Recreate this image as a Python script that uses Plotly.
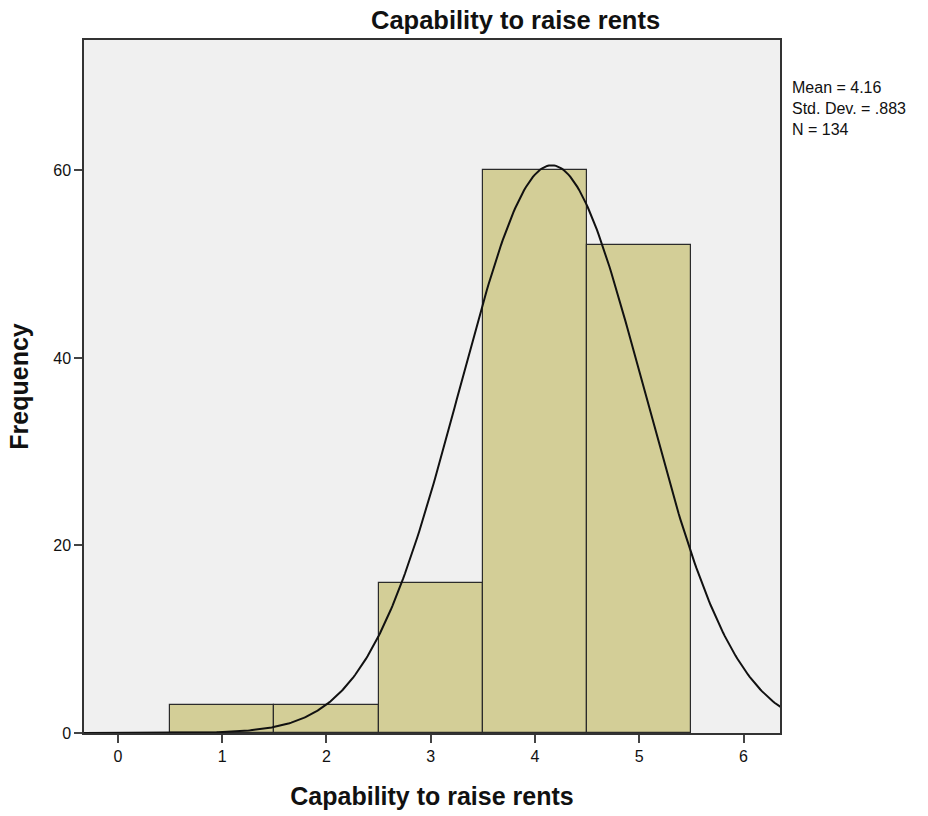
import numpy as np
import plotly.graph_objects as go

# Data
categories = [1, 2, 3, 4, 5]
frequencies = [3, 3, 16, 60, 52]
mean_val = 4.16
std_val = 0.883
n_val = 134
x_ticks = [0, 1, 2, 3, 4, 5, 6]
y_ticks = [0, 20, 40, 60]

FONT = "Liberation Sans, Arial, sans-serif"

fig = go.Figure()
fig.add_trace(go.Bar(
    x=categories, y=frequencies, width=1,
    marker=dict(color="#D3CE97", line=dict(color="#2b2b2b", width=1.2)),
    hoverinfo="x+y", showlegend=False,
))

# normal curve from the displayed statistics (bin width 1)
xs = np.linspace(-0.4, 6.4, 400)
ys = n_val * 1.0 / (std_val * np.sqrt(2 * np.pi)) * np.exp(-0.5 * ((xs - mean_val) / std_val) ** 2)
fig.add_trace(go.Scatter(x=xs, y=ys, mode="lines",
                         line=dict(color="#111111", width=2), showlegend=False,
                         hoverinfo="skip"))

fig.update_layout(
    width=928, height=816,
    margin=dict(l=84, r=148, t=40, b=83),
    paper_bgcolor="white", plot_bgcolor="#F0F0F0",
    font=dict(family=FONT, color="#111111"),
    bargap=0,
    annotations=[
        dict(text="<b>Capability to raise rents</b>", xref="paper", yref="paper",
             x=(515 - 84) / 696, y=1, yshift=20, xanchor="center", yanchor="middle",
             showarrow=False, font=dict(size=25.5, family=FONT, color="#111111")),
        dict(text="Mean = 4.16<br>Std. Dev. = .883<br>N = 134", xref="paper", yref="paper",
             x=(790 - 84) / 696, y=(733 - 77) / 693, xanchor="left", yanchor="top", align="left",
             showarrow=False, font=dict(size=16, family=FONT, color="#111111")),
    ],
)
fig.update_xaxes(
    range=[-0.326, 6.35], tickvals=x_ticks, ticks="outside", ticklen=8, tickwidth=1.5,
    tickcolor="#444", showgrid=False, zeroline=False, automargin=False,
    showline=True, linecolor="#333", linewidth=1.5, mirror=True,
    tickfont=dict(size=16, family=FONT, color="#111111"),
    title=dict(text="<b>Capability to raise rents</b>", font=dict(size=25, family=FONT, color="#111111"), standoff=24),
)
fig.update_yaxes(
    range=[0, 73.9], tickvals=y_ticks, ticks="outside", ticklen=8, tickwidth=1.5,
    tickcolor="#444", showgrid=False, zeroline=False, automargin=False,
    showline=True, linecolor="#333", linewidth=1.5, mirror=True,
    tickfont=dict(size=16, family=FONT, color="#111111"),
    title=dict(text="<b>Frequency</b>", font=dict(size=25, family=FONT, color="#111111"), standoff=18),
)

fig.write_html("out.html")
